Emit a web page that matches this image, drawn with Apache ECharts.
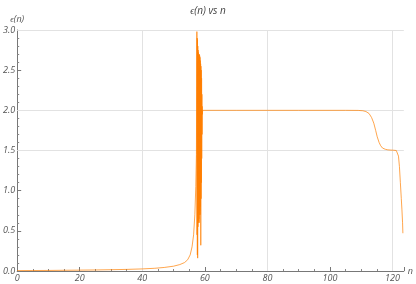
<!DOCTYPE html>
<html>
<head>
<meta charset="utf-8">
<script src="https://cdn.jsdelivr.net/npm/echarts@6/dist/echarts.min.js"></script>
<style>html,body{margin:0;padding:0;background:#fff;}#c{width:416px;height:284px;}</style>
</head>
<body>
<div id="c"></div>
<script>
const nValues = [0,5,10,15,20,25,30,35,40,44,47,50,52,53.5,54.5,55.3,55.9,56.4,56.8,57.1,57.3,57.45,
  57.5,57.55,57.6,57.65,57.7,57.75,57.8,57.85,57.9,57.95,58.0,58.05,58.1,58.15,58.2,58.25,58.3,58.35,58.4,58.45,58.5,58.55,58.6,58.65,58.7,58.75,58.8,58.85,58.9,58.95,59.0,59.05,59.1,59.15,59.2,59.3,
  70,90,105,109,110.5,111.5,112.5,113.3,114,114.6,115.1,115.7,116.2,116.8,117.7,118.5,119.5,120.4,121.2,121.6,121.9,122.2,122.5,122.8,123.0,123.2,123.3];
const epsValues = [0.005,0.006,0.007,0.009,0.011,0.013,0.016,0.02,0.026,0.034,0.044,0.06,0.08,0.105,0.14,0.2,0.3,0.45,0.7,1.05,1.45,2.98,
  0.45,2.9,0.2,2.88,0.16,2.8,0.55,2.75,0.6,2.72,0.62,2.7,0.65,2.7,0.6,2.69,0.7,2.68,0.75,2.66,0.7,2.62,0.8,2.58,0.32,2.55,0.9,2.5,1.1,2.4,1.4,2.2,1.7,2.05,1.95,2.0,
  2.0,2.0,2.0,1.999,1.995,1.985,1.96,1.91,1.84,1.75,1.67,1.6,1.56,1.53,1.515,1.508,1.505,1.503,1.5,1.48,1.43,1.3,1.1,0.9,0.76,0.6,0.47];
const xTicks = [0,20,40,60,80,100,120];
const yTicks = [0,0.5,1,1.5,2,2.5,3];
const hGrid = [1.5,2,3];
const vGrid = [40,80,120];

const chart = echarts.init(document.getElementById('c'), null, {renderer:'canvas'});
const pts = nValues.map((n,i)=>[n, epsValues[i]]);
const labelStyle = {color:'#555', fontStyle:'italic', fontSize:9, fontFamily:'Open Sans'};
chart.setOption({
  animation:false,
  title:{text:'ϵ(n) vs n', left:'center', top:1, textStyle:{fontStyle:'italic', fontWeight:'normal', fontSize:10, color:'#444', fontFamily:'Open Sans'}},
  grid:{left:14, right:11, top:30, bottom:13, containLabel:false},
  xAxis:{type:'value', min:0, max:123.6, interval:20,
    name:'n', nameLocation:'end', nameGap:4, nameTextStyle:{color:'#555', fontStyle:'italic', fontSize:9, fontFamily:'Open Sans', verticalAlign:'middle'},
    axisLine:{show:true, lineStyle:{color:'#777', width:1}},
    axisTick:{show:true, inside:true, length:4, lineStyle:{color:'#777'}},
    minorTick:{show:true, splitNumber:4, length:2, lineStyle:{color:'#888'}},
    splitLine:{show:false},
    axisLabel:Object.assign({margin:3, showMaxLabel:false, formatter:v=>xTicks.includes(v)?String(v):''}, labelStyle)},
  yAxis:{type:'value', min:0, max:3, interval:0.5,
    name:'ϵ(n)', nameLocation:'end', nameGap:6, nameTextStyle:{color:'#555', fontStyle:'italic', fontSize:9, fontFamily:'Open Sans', align:'center'},
    axisLine:{show:true, lineStyle:{color:'#777', width:1}},
    axisTick:{show:true, inside:true, length:4, lineStyle:{color:'#777'}},
    minorTick:{show:true, splitNumber:5, length:2, lineStyle:{color:'#888'}},
    splitLine:{show:false},
    axisLabel:Object.assign({margin:2, formatter:v=>yTicks.includes(v)?v.toFixed(1):''}, labelStyle)},
  series:[
    {type:'line', data:[], z:1, silent:true,
     markLine:{z:1, silent:true, symbol:['none','none'], label:{show:false}, animation:false,
       lineStyle:{color:'#e2e2e2', width:1, type:'solid'},
       data: hGrid.map(v=>({yAxis:v})).concat(vGrid.map(v=>({xAxis:v})))}},
    {type:'line', data:pts, showSymbol:false, z:3, lineStyle:{color:'#ff8000', width:0.7}}
  ]
});
</script>
</body>
</html>
